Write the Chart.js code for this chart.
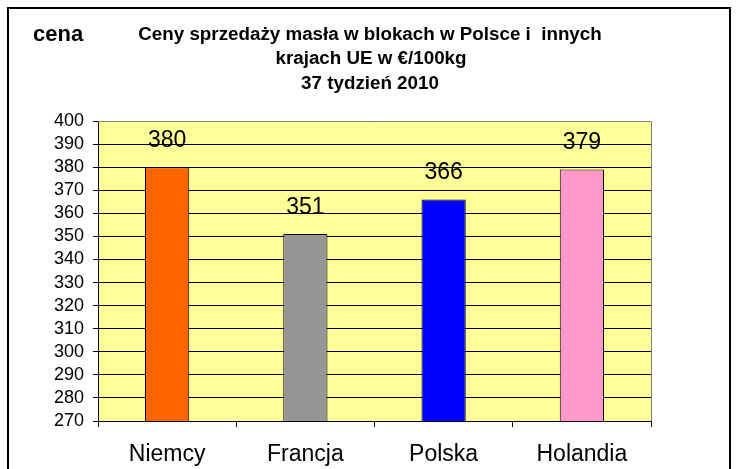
<!DOCTYPE html>
<html>
<head>
<meta charset="utf-8">
<script src="https://cdn.jsdelivr.net/npm/chart.js@4/dist/chart.umd.min.js"></script>
<style>
  html, body { margin: 0; padding: 0; background: #fff; }
  #wrap { width: 737px; height: 469px; position: relative; }
</style>
</head>
<body>
<div id="wrap"><canvas id="chart" width="737" height="469"></canvas></div>
<script>
// Chart data
const countries = ['Niemcy', 'Francja', 'Polska', 'Holandia'];
const prices = [380, 351, 366, 379];
const barColors = ['#FF6600', '#969696', '#0000FF', '#FF99CC'];
const titleLines = ['Ceny sprzedaży masła w blokach w Polsce i  innych', 'krajach UE w €/100kg', '37 tydzień 2010'];
const axisLabel = 'cena';

// Frame, plot background, title and value labels
const decorPlugin = {
  id: 'decor',
  beforeDraw(chart) {
    const { ctx, chartArea } = chart;
    ctx.save();
    ctx.fillStyle = '#FFFF99';
    ctx.fillRect(chartArea.left, chartArea.top, chartArea.right - chartArea.left, chartArea.bottom - chartArea.top);
    ctx.restore();
  },
  afterDatasetsDraw(chart) {
    const { ctx, chartArea } = chart;
    ctx.save();
    // gray plot border top/right
    ctx.strokeStyle = '#808080';
    ctx.lineWidth = 1;
    ctx.beginPath();
    ctx.moveTo(chartArea.left, chartArea.top + 0.5);
    ctx.lineTo(chartArea.right + 0.5, chartArea.top + 0.5);
    ctx.lineTo(chartArea.right + 0.5, chartArea.bottom);
    ctx.stroke();

    // values above bars
    const meta = chart.getDatasetMeta(0);
    ctx.fillStyle = '#000';
    ctx.font = '23px Arial, "Liberation Sans", sans-serif';
    ctx.textAlign = 'center';
    ctx.textBaseline = 'alphabetic';
    meta.data.forEach((bar, i) => {
      ctx.fillText(String(prices[i]), bar.x, bar.y - 20);
    });

    // title
    ctx.font = 'bold 18.8px Arial, "Liberation Sans", sans-serif';
    ctx.textBaseline = 'middle';
    ctx.fillText(titleLines[0], 370, 35);
    ctx.fillText(titleLines[1], 371, 59);
    ctx.fillText(titleLines[2], 370, 84);

    ctx.font = 'bold 22px Arial, "Liberation Sans", sans-serif';
    ctx.textAlign = 'left';
    ctx.fillText(axisLabel, 33, 35);

    // outer frame
    ctx.strokeStyle = '#000';
    ctx.lineWidth = 2;
    ctx.strokeRect(8, 8, 722, 480);
    ctx.restore();
  }
};

new Chart(document.getElementById('chart'), {
  type: 'bar',
  data: {
    labels: countries,
    datasets: [{
      data: prices,
      backgroundColor: barColors,
      borderColor: '#000',
      borderWidth: 1,
      borderSkipped: false,
      categoryPercentage: 1,
      barPercentage: 0.32
    }]
  },
  options: {
    responsive: false,
    animation: false,
    layout: { padding: { left: 10, top: 121, right: 737 - 651, bottom: 0 } },
    plugins: {
      legend: { display: false },
      tooltip: { enabled: false }
    },
    scales: {
      x: {
        grid: {
          offset: true,
          drawOnChartArea: false,
          drawTicks: true,
          tickLength: 6,
          color: '#000'
        },
        border: { color: '#000', width: 1 },
        ticks: {
          color: '#000',
          padding: 14,
          font: { family: 'Arial, "Liberation Sans", sans-serif', size: 23 }
        },
        afterFit(scale) { scale.height = 48; }
      },
      y: {
        min: 270,
        max: 400,
        ticks: {
          stepSize: 10,
          autoSkip: false,
          color: '#000',
          padding: 9,
          font: { family: 'Arial, "Liberation Sans", sans-serif', size: 18 }
        },
        grid: {
          color: '#000',
          tickLength: 5,
          drawTicks: true
        },
        border: { color: '#000', width: 1 },
        afterFit(scale) { scale.width = 88; }
      }
    }
  },
  plugins: [decorPlugin]
});
</script>
</body>
</html>
